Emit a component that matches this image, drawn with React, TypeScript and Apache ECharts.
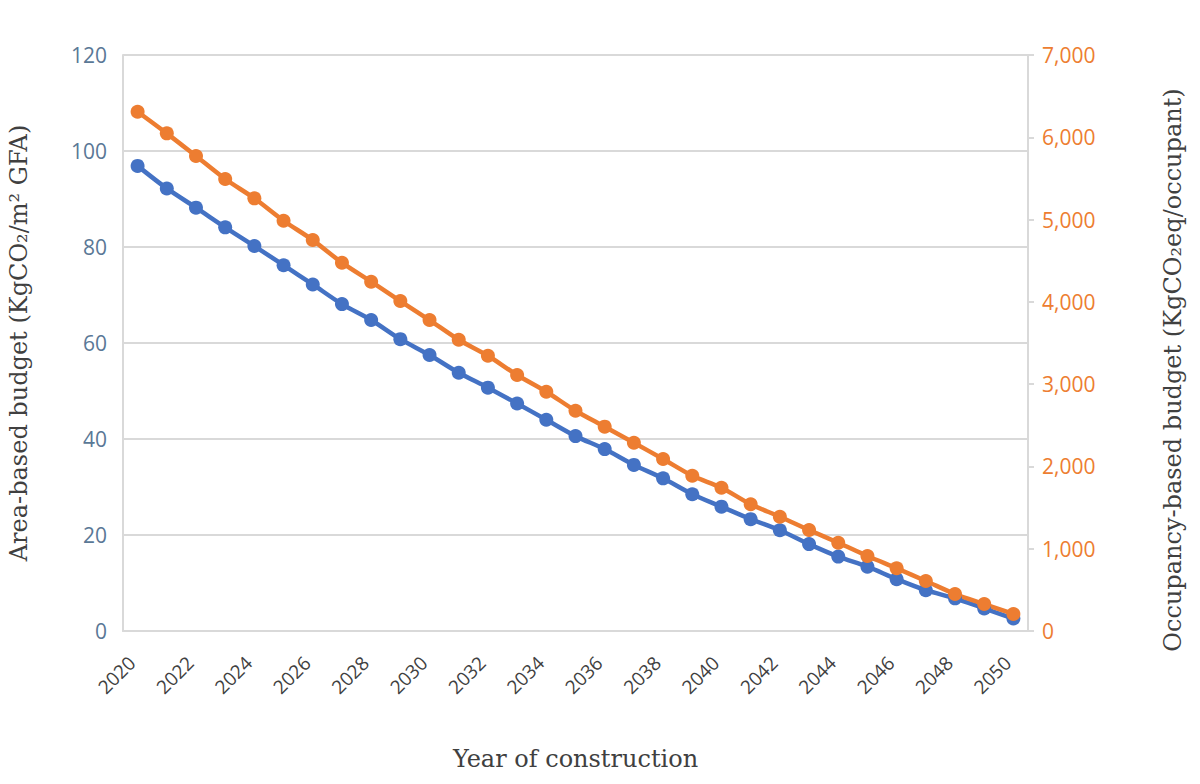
import React, { useEffect, useRef } from "react";
import * as echarts from "echarts";

const years: string[] = Array.from({ length: 31 }, (_, i) => String(2020 + i));

// Area-based budget, kgCO2/m² GFA
const areaBudget: number[] = [
  96.9, 92.2, 88.2, 84.1, 80.2, 76.2, 72.2, 68.1, 64.8, 60.8,
  57.5, 53.8, 50.7, 47.4, 44.0, 40.6, 37.9, 34.6, 31.8, 28.5,
  25.9, 23.3, 21.0, 18.1, 15.5, 13.4, 10.8, 8.5, 6.8, 4.7, 2.6,
];

// Occupancy-based budget, kgCO2eq/occupant
const occupancyBudget: number[] = [
  6311, 6048, 5772, 5493, 5258, 4986, 4751, 4476, 4245, 4010,
  3779, 3540, 3345, 3111, 2908, 2677, 2483, 2288, 2090, 1887,
  1741, 1540, 1389, 1227, 1073, 911, 762, 608, 450, 328, 207,
];

const BLUE = "#4472C4";
const ORANGE = "#ED7D31";
const GRID = "#d9d9d9";
const TITLE_FONT = { fontFamily: "DejaVu Serif", fontSize: 24, color: "#404040" };

export default function App() {
  const ref = useRef<HTMLDivElement>(null);

  useEffect(() => {
    if (!ref.current) return;
    const chart = echarts.init(ref.current, null, { renderer: "svg" });
    chart.setOption({
      animation: false,
      backgroundColor: "#ffffff",
      grid: { left: 123, right: 172, top: 55, bottom: 153, outerBoundsMode: "none", containLabel: false },
      xAxis: {
        type: "category",
        data: years,
        boundaryGap: true,
        name: "Year of construction",
        nameLocation: "middle",
        nameGap: 116,
        nameTextStyle: TITLE_FONT,
        axisLine: { lineStyle: { color: GRID, width: 2 } },
        axisTick: { show: false },
        axisLabel: {
          interval: 1,
          rotate: 45,
          margin: 23,
          padding: [0, 8, 0, 0],
          fontFamily: "Open Sans",
          fontSize: 19,
          color: "#404040",
        },
        splitLine: { show: false },
      },
      yAxis: [
        {
          type: "value",
          min: 0,
          max: 120,
          interval: 20,
          position: "left",
          name: "Area-based budget (KgCO₂/m² GFA)",
          nameLocation: "middle",
          nameGap: 92,
          nameTextStyle: TITLE_FONT,
          axisLine: { show: true, lineStyle: { color: GRID, width: 2 } },
          axisTick: { show: false },
          axisLabel: {
            margin: 16,
            fontFamily: "Open Sans",
            fontSize: 21,
            color: "#5a7896",
          },
          splitLine: { show: true, lineStyle: { color: GRID, width: 2 } },
        },
        {
          type: "value",
          min: 0,
          max: 7000,
          interval: 1000,
          position: "right",
          name: "Occupancy-based budget (KgCO₂eq/occupant)",
          nameLocation: "middle",
          nameGap: 133,
          nameTextStyle: { ...TITLE_FONT, padding: [0, 54, 0, 0] },
          axisLine: { show: true, lineStyle: { color: GRID, width: 2 } },
          axisTick: { show: true, length: 6, lineStyle: { color: GRID, width: 2 } },
          axisLabel: {
            margin: 14,
            fontFamily: "Open Sans",
            fontSize: 21,
            color: ORANGE,
            formatter: (v: number) => v.toLocaleString("en-US"),
          },
          splitLine: { show: false },
        },
      ],
      series: [
        {
          name: "Area-based budget",
          type: "line",
          yAxisIndex: 0,
          data: areaBudget,
          smooth: 0.3,
          symbol: "circle",
          symbolSize: 14,
          lineStyle: { color: BLUE, width: 4.5 },
          itemStyle: { color: BLUE },
        },
        {
          name: "Occupancy-based budget",
          type: "line",
          yAxisIndex: 1,
          data: occupancyBudget,
          smooth: 0.3,
          symbol: "circle",
          symbolSize: 14,
          lineStyle: { color: ORANGE, width: 4.5 },
          itemStyle: { color: ORANGE },
        },
      ],
    });
    return () => chart.dispose();
  }, []);

  return <div ref={ref} style={{ width: 1200, height: 784, position: "absolute", left: 0, top: 0 }} />;
}
